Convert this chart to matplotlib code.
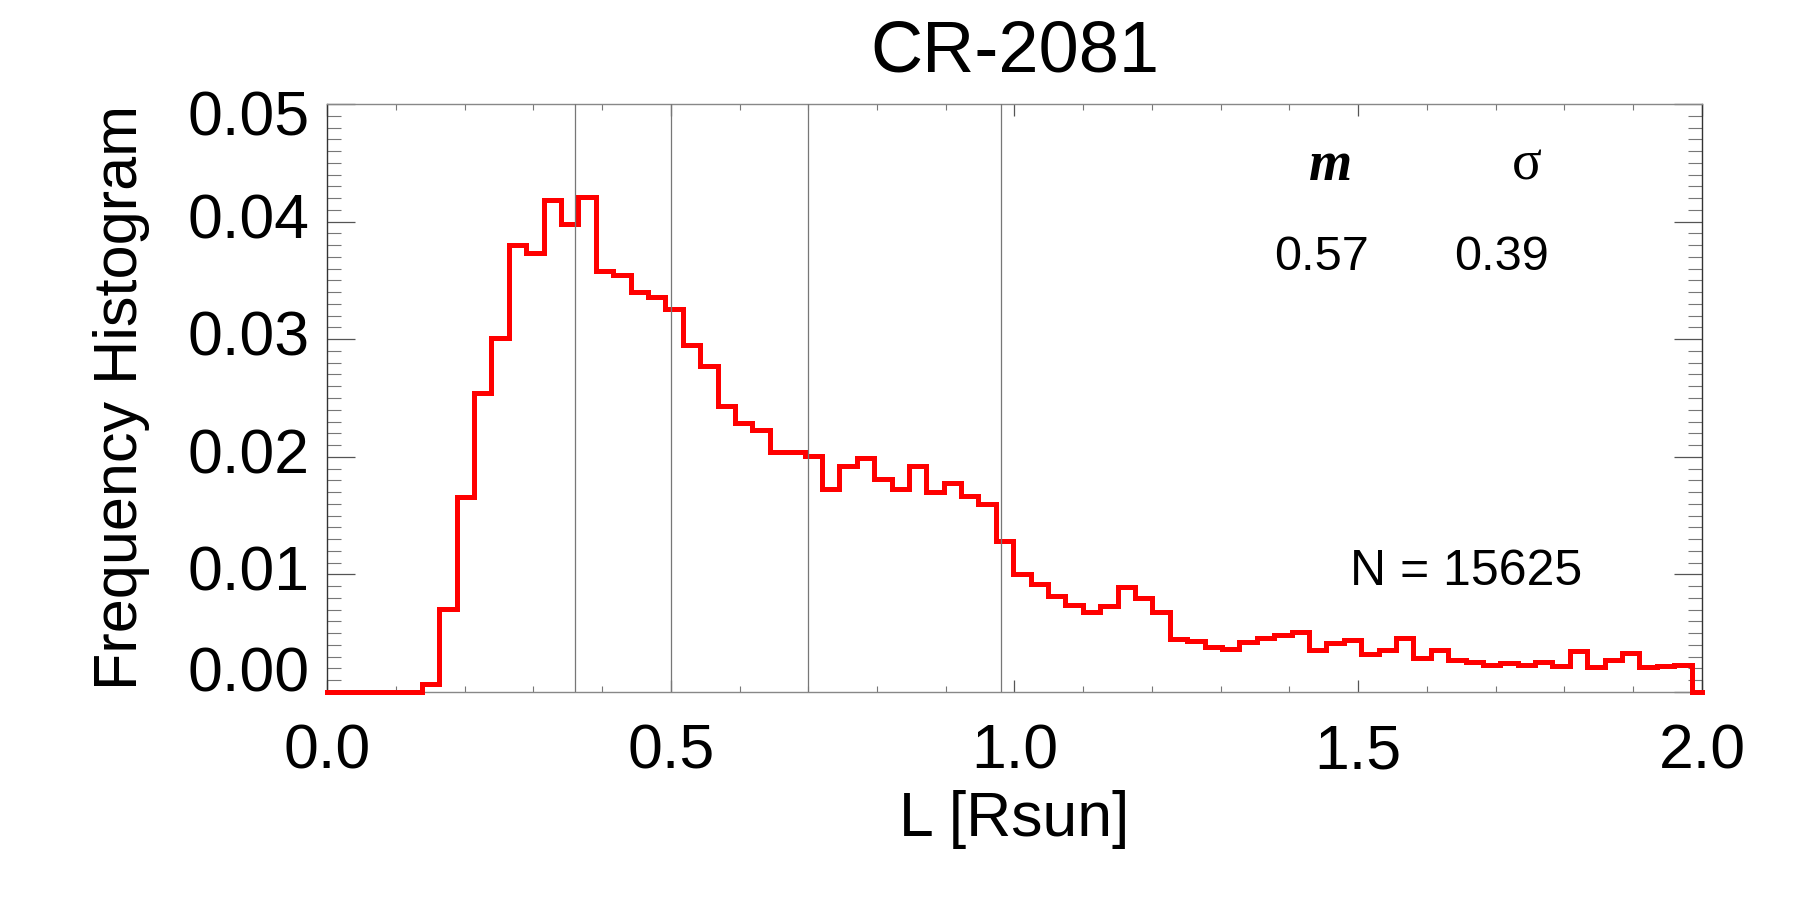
import numpy as np
import matplotlib
matplotlib.use("Agg")
import matplotlib.pyplot as plt
from matplotlib.ticker import MultipleLocator
from matplotlib.transforms import offset_copy

# ---------------- data ----------------
title = "CR-2081"
xlabel = "L [Rsun]"
ylabel = "Frequency Histogram"

bin_start = 0.138
bin_width = 0.0253
freq = [0.0007, 0.0071, 0.0166, 0.0254, 0.0301, 0.0380, 0.0373, 0.0418, 0.0398, 0.0421,
        0.0358, 0.0355, 0.0340, 0.0336, 0.0326, 0.0295, 0.0277, 0.0243, 0.0229, 0.0223,
        0.0204, 0.0204, 0.0201, 0.0173, 0.0192, 0.0199, 0.0181, 0.0173, 0.0192, 0.0170,
        0.0178, 0.0167, 0.0160, 0.0128, 0.0100, 0.0092, 0.0082, 0.0074, 0.0068, 0.0073,
        0.0089, 0.0080, 0.00677, 0.0045, 0.00435, 0.0038, 0.00367, 0.00425, 0.0046, 0.00485,
        0.0051, 0.0036, 0.0042, 0.0044, 0.0032, 0.00357, 0.0046, 0.00286, 0.00357, 0.00275,
        0.00258, 0.00233, 0.00244, 0.00227, 0.00253, 0.00225, 0.00352, 0.00216, 0.00272, 0.0033,
        0.0021, 0.0022, 0.0023]
vlines_x = [0.36, 0.50, 0.70, 0.98]
stat_names = ["m", "\u03c3"]
stat_values = ["0.57", "0.39"]
n_label = "N = 15625"

xticks = [0.0, 0.5, 1.0, 1.5, 2.0]
xticklabels = ["0.0", "0.5", "1.0", "1.5", "2.0"]
yticks = [0.00, 0.01, 0.02, 0.03, 0.04, 0.05]
yticklabels = ["0.00", "0.01", "0.02", "0.03", "0.04", "0.05"]

# ---------------- figure ----------------
W, H = 1800, 900
fig = plt.figure(figsize=(18, 9), dpi=100)
L, R, B, T = 327, 1702, 692, 104
ax = fig.add_axes([L / W, 1 - B / H, (R - L) / W, (B - T) / H])
ax.set_xlim(0, 2.0)
ax.set_ylim(0, 0.05)

sans = "Liberation Sans"
serif = "Liberation Serif"

# histogram step line
edges = bin_start + bin_width * np.arange(len(freq) + 1)
xs = np.concatenate([[0.0], edges, [2.0]])
ys = np.concatenate([[0.0], freq, [0.0, 0.0]])
ax.step(xs, ys, where="post", color="#ff0000", lw=3.6, clip_on=False,
        solid_joinstyle="miter", zorder=3)

for xv in vlines_x:
    ax.axvline(xv, color="#777777", lw=0.9, zorder=4)

# spines
for s in ["left", "right"]:
    ax.spines[s].set_color("#333333")
    ax.spines[s].set_linewidth(1.0)
for s in ["top", "bottom"]:
    ax.spines[s].set_color("#888888")
    ax.spines[s].set_linewidth(1.0)

# ticks
ax.set_xticks(xticks)
ax.set_xticklabels(xticklabels, fontsize=45, family=sans)
ax.xaxis.set_minor_locator(MultipleLocator(0.1))
ax.set_yticks(yticks)
ax.yaxis.set_minor_locator(MultipleLocator(0.001))
ax.tick_params(axis="x", which="major", direction="in", length=8.6, width=0.9,
               color="#555555", top=True, bottom=True, pad=22)
ax.tick_params(axis="x", which="minor", direction="in", length=4.3, width=0.8,
               color="#777777", top=True, bottom=True)
ax.tick_params(axis="y", which="major", direction="in", length=20, width=0.9,
               color="#555555", left=True, right=True, labelleft=False)
ax.tick_params(axis="y", which="minor", direction="in", length=10, width=0.8,
               color="#777777", left=True, right=True)

ytrans = ax.get_yaxis_transform()
top_trans = offset_copy(ytrans, fig=fig, y=-15, units="dots")
for i, (yv, lab) in enumerate(zip(yticks, yticklabels)):
    tr = ytrans
    if i == 0:
        va = "baseline"
    elif i == len(yticks) - 1:
        va = "center"
        tr = top_trans
    else:
        va = "center"
    ax.text(-17 / (R - L), yv, lab, transform=tr, ha="right", va=va,
            fontsize=45, family=sans, clip_on=False)

# labels and title
fig.text((L + R) / 2 / W, 1 - 71 / H, title, ha="center", va="baseline",
         fontsize=52, family=sans)
fig.text((L + R) / 2 / W, 1 - 836 / H, xlabel, ha="center", va="baseline",
         fontsize=45, family=sans)
fig.text(122 / W, 1 - 398 / H, ylabel, ha="center", va="center", rotation=90,
         fontsize=44, family=sans)

# annotations
fig.text(1331 / W, 1 - 180 / H, stat_names[0], fontsize=40, family=serif,
         fontweight="bold", fontstyle="italic", ha="center", va="baseline")
fig.text(1527 / W, 1 - 180 / H, stat_names[1], fontsize=40, family=serif,
         ha="center", va="baseline")
fig.text(1322 / W, 1 - 270 / H, stat_values[0], fontsize=35, family=sans,
         ha="center", va="baseline")
fig.text(1502 / W, 1 - 270 / H, stat_values[1], fontsize=35, family=sans,
         ha="center", va="baseline")
fig.text(1466 / W, 1 - 585 / H, n_label, fontsize=36, family=sans,
         ha="center", va="baseline")

fig.savefig("out.png", dpi=100)
